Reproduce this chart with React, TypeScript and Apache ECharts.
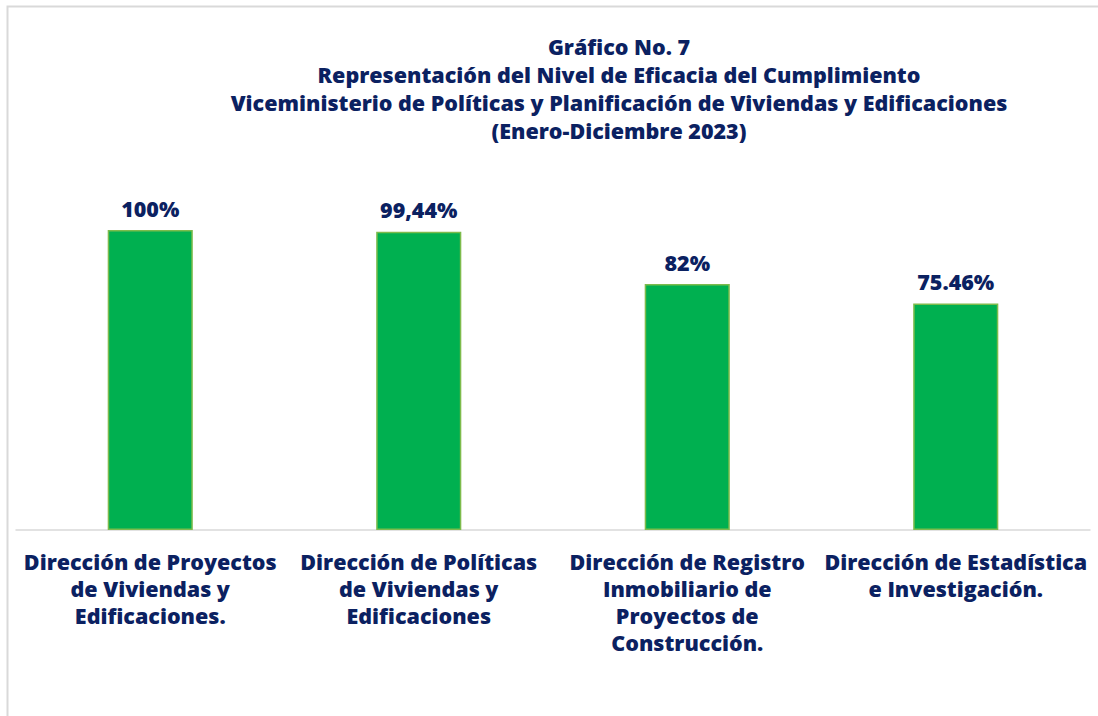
import React, { useEffect, useRef } from "react";
import * as echarts from "echarts";

const titleLines = [
  "Gráfico No. 7",
  "Representación del Nivel de Eficacia del Cumplimiento",
  "Viceministerio de Políticas y Planificación de Viviendas y Edificaciones",
  "(Enero-Diciembre 2023)",
];
const categories = [
  "Dirección de Proyectos\nde Viviendas y\nEdificaciones.",
  "Dirección de Políticas\nde Viviendas y\nEdificaciones",
  "Dirección de Registro\nInmobiliario de\nProyectos de\nConstrucción.",
  "Dirección de Estadística\ne Investigación.",
];
const values = [100, 99.44, 82, 75.46];
const valueLabels = ["100%", "99,44%", "82%", "75.46%"];

const NAVY = "#0B2161";
const FONT = "'Open Sans', Lato, sans-serif";

export default function App() {
  const ref = useRef<HTMLDivElement>(null);
  useEffect(() => {
    if (!ref.current) return;
    const chart = echarts.init(ref.current, undefined, { renderer: "svg" });
    chart.setOption({
      animation: false,
      backgroundColor: "#ffffff",
      title: {
        text: titleLines.join("\n"),
        left: 614,
        top: 27,
        textAlign: "center",
        textStyle: {
          color: NAVY,
          fontFamily: FONT,
          fontWeight: 800,
          fontSize: 21.5,
          lineHeight: 28,
        },
      },
      graphic: [
        {
          type: "rect",
          shape: { x: 7.5, y: 6.5, width: 1200, height: 800 },
          style: { fill: "none", stroke: "#d9d9d9", lineWidth: 2 },
          silent: true,
          z: -1,
        },
      ],
      grid: { left: 16, right: 8, top: 170, bottom: 186 },
      xAxis: {
        type: "category",
        data: categories,
        axisLine: { show: true, lineStyle: { color: "#d9d9d9", width: 1.5 } },
        axisTick: { show: false },
        axisLabel: {
          interval: 0,
          margin: 18,
          color: NAVY,
          fontFamily: FONT,
          fontWeight: 800,
          fontSize: 21.5,
          lineHeight: 27,
          align: "center",
        },
      },
      yAxis: {
        type: "value",
        min: 0,
        max: 120,
        show: false,
        splitLine: { show: false },
      },
      series: [
        {
          type: "bar",
          data: values,
          barWidth: "31.7%",
          itemStyle: { color: "#00B050", borderColor: "#7DBB4C", borderWidth: 1.5 },
          label: {
            show: true,
            position: "top",
            distance: 11,
            color: NAVY,
            fontFamily: FONT,
            fontWeight: 800,
            fontSize: 21.5,
            formatter: (p: any) => valueLabels[p.dataIndex],
          },
        },
      ],
    });
    return () => chart.dispose();
  }, []);
  return (
    <div
      ref={ref}
      style={{ position: "fixed", left: 0, top: 0, width: 1098, height: 716 }}
    />
  );
}
